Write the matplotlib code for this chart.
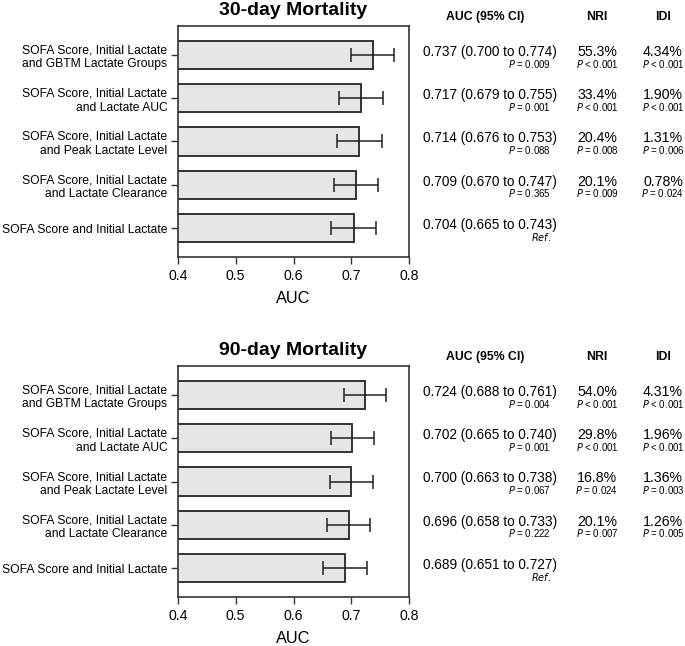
import numpy as np
import matplotlib.pyplot as plt
from matplotlib.transforms import blended_transform_factory

plt.rcParams['font.family'] = ['Liberation Sans', 'DejaVu Sans']

# data
models = ['SOFA Score, Initial Lactate\nand GBTM Lactate Groups',
          'SOFA Score, Initial Lactate\nand Lactate AUC',
          'SOFA Score, Initial Lactate\nand Peak Lactate Level',
          'SOFA Score, Initial Lactate\nand Lactate Clearance',
          'SOFA Score and Initial Lactate']

auc30 = [0.737, 0.717, 0.714, 0.709, 0.704]
lo30 = [0.700, 0.679, 0.676, 0.670, 0.665]
hi30 = [0.774, 0.755, 0.753, 0.747, 0.743]
p30 = ['P = 0.009', 'P = 0.001', 'P = 0.088', 'P = 0.365', 'Ref.']
nri30 = ['55.3%', '33.4%', '20.4%', '20.1%', '']
nrip30 = ['P < 0.001', 'P < 0.001', 'P = 0.008', 'P = 0.009', '']
idi30 = ['4.34%', '1.90%', '1.31%', '0.78%', '']
idip30 = ['P < 0.001', 'P < 0.001', 'P = 0.006', 'P = 0.024', '']

auc90 = [0.724, 0.702, 0.700, 0.696, 0.689]
lo90 = [0.688, 0.665, 0.663, 0.658, 0.651]
hi90 = [0.761, 0.740, 0.738, 0.733, 0.727]
p90 = ['P = 0.004', 'P = 0.001', 'P = 0.067', 'P = 0.222', 'Ref.']
nri90 = ['54.0%', '29.8%', '16.8%', '20.1%', '']
nrip90 = ['P < 0.001', 'P < 0.001', 'P = 0.024', 'P = 0.007', '']
idi90 = ['4.31%', '1.96%', '1.36%', '1.26%', '']
idip90 = ['P < 0.001', 'P < 0.001', 'P = 0.003', 'P = 0.005', '']

W, H = 685, 646
fig = plt.figure(figsize=(W/100, H/100), dpi=100)


def ptext(s):
    # italic P, rest normal
    if s == 'Ref.':
        return r'$\it{Ref.}$'
    return r'$\it{P}$' + s[1:]


def panel(top_px, bot_px, title, auc, lo, hi, p, nri, nrip, idi, idip):
    ax = fig.add_axes([178/W, 1-bot_px/H, 231/W, (bot_px-top_px)/H])
    y = np.arange(len(auc))
    err = [np.array(auc)-np.array(lo), np.array(hi)-np.array(auc)]
    ax.barh(y, auc, height=0.65, color='#e6e6e6', edgecolor='#333333', linewidth=1.4)
    ax.errorbar(auc, y, xerr=err, fmt='none', ecolor='#222222', elinewidth=1.1, capsize=5, capthick=1.1)
    ax.set_xlim(0.4, 0.8)
    ax.set_ylim(4.67, -0.67)
    ax.set_yticks(y)
    ax.set_yticklabels(models, fontsize=8.7, ha='right', linespacing=1.2)
    ax.set_xticks([0.4, 0.5, 0.6, 0.7, 0.8])
    ax.set_xticklabels(['0.4', '0.5', '0.6', '0.7', '0.8'], fontsize=10.2)
    ax.tick_params(length=5, width=1, color='#333333')
    ax.tick_params(axis='y', pad=2.5)
    ax.set_xlabel('AUC', fontsize=11.8, labelpad=6)
    for s in ax.spines.values():
        s.set_color('#333333')
        s.set_linewidth(1.2)
    ax.set_title(title, fontsize=14, fontweight='bold', pad=8)

    tr = blended_transform_factory(fig.transFigure, ax.transData)
    hy = 1 - (top_px - 9)/H
    fig.text(485/W, hy, 'AUC (95% CI)', fontsize=8.8, fontweight='bold', ha='center', va='center')
    fig.text(597/W, hy, 'NRI', fontsize=8.8, fontweight='bold', ha='center', va='center')
    fig.text(663/W, hy, 'IDI', fontsize=8.8, fontweight='bold', ha='center', va='center')
    for i in range(len(auc)):
        ax.text(423/W, i - 0.07, '%.3f (%.3f to %.3f)' % (auc[i], lo[i], hi[i]),
                transform=tr, fontsize=9.8, ha='left', va='center')
        ax.text(551/W, i + 0.2, ptext(p[i]), transform=tr, fontsize=7, ha='right', va='center')
        if nri[i]:
            ax.text(597/W, i - 0.07, nri[i], transform=tr, fontsize=10.2, ha='center', va='center')
            ax.text(597/W, i + 0.2, ptext(nrip[i]), transform=tr, fontsize=7, ha='center', va='center')
            ax.text(663/W, i - 0.07, idi[i], transform=tr, fontsize=10.2, ha='center', va='center')
            ax.text(663/W, i + 0.2, ptext(idip[i]), transform=tr, fontsize=7, ha='center', va='center')
    return ax


panel(26, 257, '30-day Mortality', auc30, lo30, hi30, p30, nri30, nrip30, idi30, idip30)
panel(366, 597, '90-day Mortality', auc90, lo90, hi90, p90, nri90, nrip90, idi90, idip90)

fig.savefig('out.png', dpi=100)
